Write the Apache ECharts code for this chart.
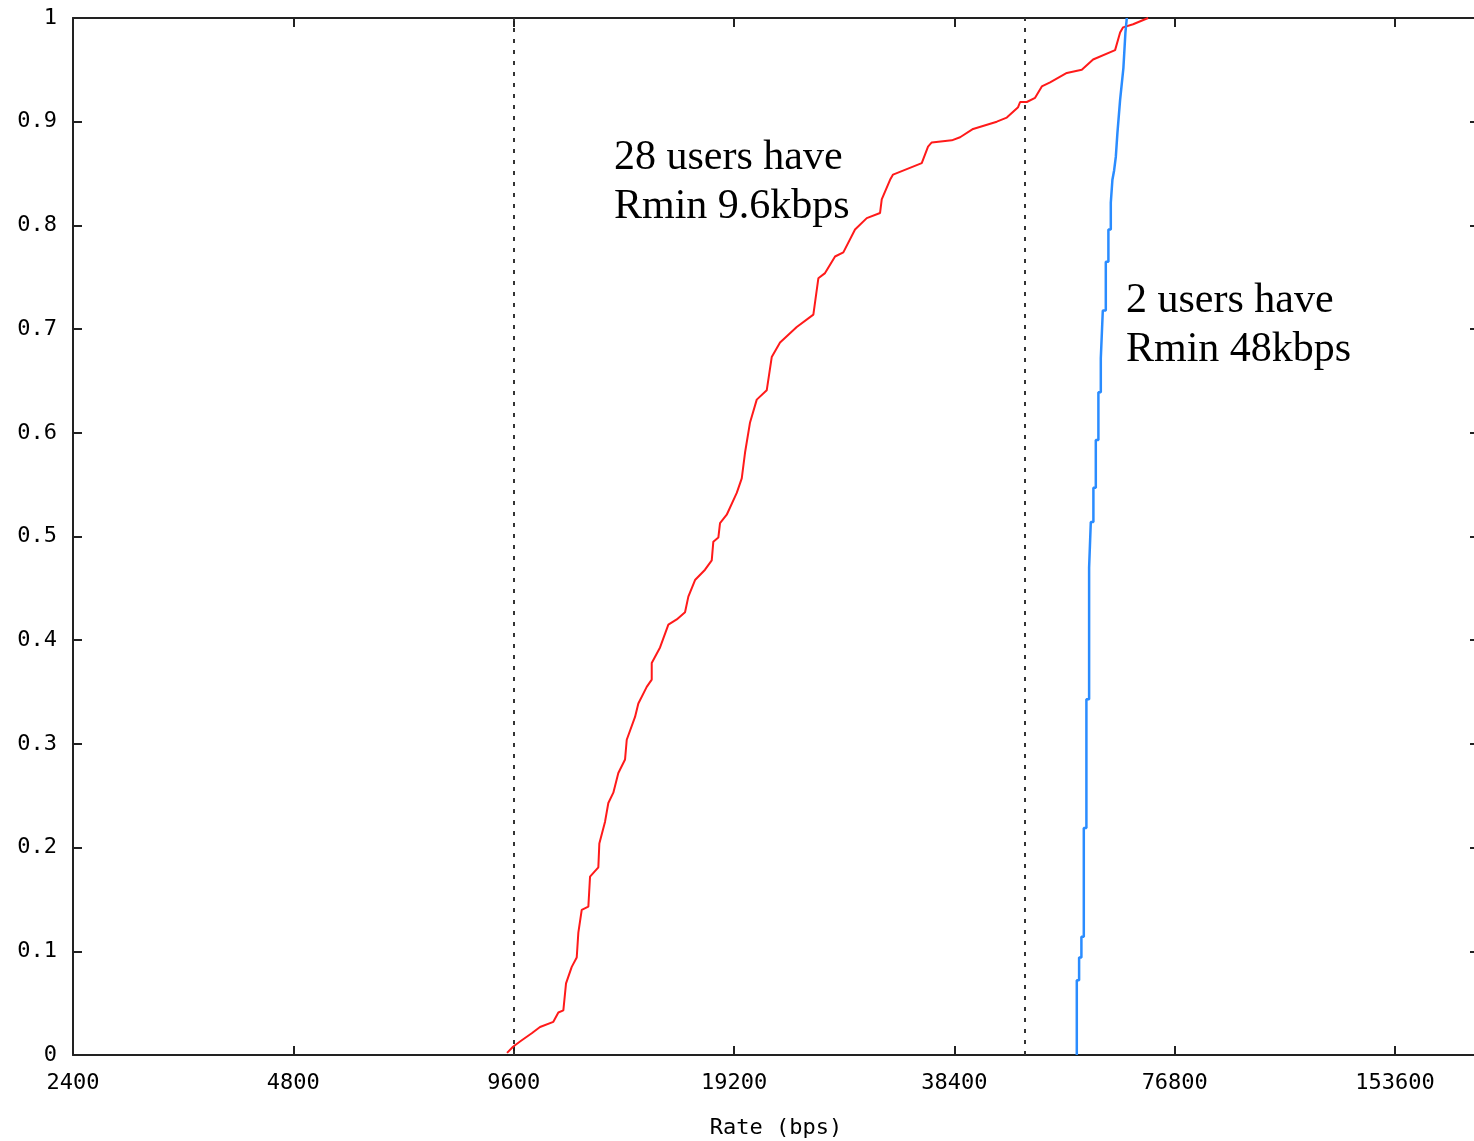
<!DOCTYPE html>
<html>
<head>
<meta charset="utf-8">
<title>Rate CDF</title>
<script src="https://cdn.jsdelivr.net/npm/echarts@6/dist/echarts.min.js"></script>
<style>
  html, body { margin: 0; padding: 0; background: #fff; }
  #chart { width: 1474px; height: 1141px; }
</style>
</head>
<body>
<div id="chart"></div>
<script>
// Rate axis is logarithmic (base 2) starting at 2400 bps
const BASE_RATE = 2400;
const MAX_RATE = 200000;
const xTickRates = [2400, 4800, 9600, 19200, 38400, 76800, 153600];
const yTicks = [0, 0.1, 0.2, 0.3, 0.4, 0.5, 0.6, 0.7, 0.8, 0.9, 1];

// Minimum-rate thresholds (9.6 kbps and 48 kbps)
const rminRates = [9600, 48000];

// CDF of users with Rmin 9.6 kbps (28 users)
const lowRates = [
  9401, 9580, 9793, 10161, 10429, 10875, 11048, 11223, 11318, 11523,
  11705, 11765, 11891, 12141, 12206, 12529, 12568, 12796, 12929, 13134,
  13342, 13627, 13700, 14062, 14209, 14589, 14820, 14820, 15213, 15616,
  16033, 16457, 16629, 16983, 17526, 17899, 17989, 18275, 18372, 18764,
  19364, 19671, 19876, 20191, 20621, 21279, 21617, 22189, 23386, 24641,
  25031, 25565, 26381, 27078, 28093, 29148, 30394, 30555, 31365, 31661,
  34652, 35345, 35760, 38089, 39095, 40727, 43880, 45281, 46921, 47217,
  48223, 49498, 50554, 51890, 54689, 57331, 59405, 63663, 64673, 65284,
  67373, 70629
];
const lowShare = [
  0.002, 0.008, 0.013, 0.021, 0.027, 0.032, 0.041, 0.043, 0.069, 0.085,
  0.094, 0.118, 0.140, 0.143, 0.172, 0.181, 0.204, 0.225, 0.243, 0.253,
  0.272, 0.285, 0.304, 0.326, 0.339, 0.355, 0.362, 0.378, 0.393, 0.415,
  0.420, 0.427, 0.442, 0.458, 0.468, 0.477, 0.495, 0.499, 0.513, 0.521,
  0.542, 0.556, 0.581, 0.610, 0.632, 0.641, 0.673, 0.687, 0.702, 0.714,
  0.749, 0.754, 0.770, 0.774, 0.796, 0.807, 0.812, 0.825, 0.844, 0.849,
  0.860, 0.876, 0.880, 0.882, 0.885, 0.893, 0.900, 0.904, 0.914, 0.919,
  0.919, 0.923, 0.934, 0.938, 0.947, 0.950, 0.960, 0.969, 0.986, 0.991,
  0.994, 1.000
];

// CDF of users with Rmin 48 kbps (2 users)
const highRates = [
  56436, 56436, 56847, 56847, 57260, 57260, 57693, 57693, 58168, 58168,
  58665, 58665, 58979, 58979, 59463, 59463, 59913, 59913, 60405, 60405,
  60864, 60864, 61248, 61248, 61828, 61828, 62335, 62335, 62807, 62807,
  63126, 63126, 63464, 63805, 64126, 64673, 65350, 65764, 66053
];
const highShare = [
  0.000, 0.072, 0.072, 0.094, 0.094, 0.114, 0.114, 0.219, 0.219, 0.343,
  0.343, 0.470, 0.470, 0.514, 0.514, 0.547, 0.547, 0.593, 0.593, 0.639,
  0.639, 0.672, 0.672, 0.718, 0.718, 0.765, 0.765, 0.796, 0.796, 0.822,
  0.822, 0.844, 0.853, 0.866, 0.889, 0.921, 0.952, 0.986, 1.000
];

const toAxis = r => Math.log2(r / BASE_RATE);
const pairs = (xs, ys) => xs.map((r, i) => [toAxis(r), ys[i]]);

const tickFont = '"DejaVu Sans Mono", "Liberation Mono", monospace';
const axisColor = '#222';
const xTickValues = xTickRates.map(toAxis);

const chart = echarts.init(document.getElementById('chart'), null, { renderer: 'canvas' });

// Shared settings: frame line with inward ticks on all four sides
const xBase = {
  type: 'value',
  min: 0,
  max: toAxis(MAX_RATE),
  splitLine: { show: false },
  axisLine: { show: true, onZero: false, lineStyle: { color: axisColor, width: 2 } },
  axisTick: { show: true, inside: true, length: 9, customValues: xTickValues,
              lineStyle: { color: axisColor, width: 2 } }
};
const yBase = {
  type: 'value',
  min: 0,
  max: 1,
  interval: 0.1,
  splitLine: { show: false },
  axisLine: { show: true, onZero: false, lineStyle: { color: axisColor, width: 2 } },
  axisTick: { show: true, inside: true, length: 9,
              lineStyle: { color: axisColor, width: 2 } }
};

chart.setOption({
  animation: false,
  backgroundColor: '#fff',
  grid: {
    left: 73, top: 18, width: 1406, bottom: 86,
    containLabel: false,
    outerBoundsMode: 'none'
  },
  xAxis: [
    Object.assign({}, xBase, {
      position: 'bottom',
      name: 'Rate (bps)',
      nameLocation: 'middle',
      nameGap: 62,
      nameTextStyle: { fontFamily: tickFont, fontSize: 22, color: '#000' },
      axisLabel: {
        show: true, margin: 17, customValues: xTickValues,
        fontFamily: tickFont, fontSize: 22, color: '#000',
        formatter: v => String(Math.round(BASE_RATE * Math.pow(2, v)))
      }
    }),
    Object.assign({}, xBase, {
      position: 'top',
      axisLabel: { show: false }
    })
  ],
  yAxis: [
    Object.assign({}, yBase, {
      position: 'left',
      axisLabel: {
        show: true, margin: 16,
        customValues: yTicks,
        fontFamily: tickFont, fontSize: 22, color: '#000',
        formatter: v => String(Math.round(v * 10) / 10)
      }
    }),
    Object.assign({}, yBase, {
      position: 'right',
      axisLabel: { show: false }
    })
  ],
  series: [
    {
      name: 'Rmin 9.6kbps',
      type: 'line',
      data: pairs(lowRates, lowShare),
      showSymbol: false,
      symbol: 'none',
      lineStyle: { color: '#ff1a1a', width: 2 },
      z: 3,
      markLine: {
        silent: true,
        symbol: ['none', 'none'],
        label: { show: false },
        lineStyle: { color: '#333', width: 2, type: [4, 7] },
        data: rminRates.map(r => ({ xAxis: toAxis(r) }))
      }
    },
    {
      name: 'Rmin 48kbps',
      type: 'line',
      data: pairs(highRates, highShare),
      showSymbol: false,
      symbol: 'none',
      lineStyle: { color: '#2a8cff', width: 2.5 },
      z: 4
    }
  ],
  graphic: [
    {
      type: 'text',
      left: 614,
      top: 133,
      style: {
        text: '28 users have\nRmin 9.6kbps',
        font: '42px "Liberation Serif", "Times New Roman", serif',
        fill: '#000',
        lineHeight: 49
      }
    },
    {
      type: 'text',
      left: 1126,
      top: 276,
      style: {
        text: '2 users have\nRmin 48kbps',
        font: '42px "Liberation Serif", "Times New Roman", serif',
        fill: '#000',
        lineHeight: 49
      }
    }
  ]
});
</script>
</body>
</html>
